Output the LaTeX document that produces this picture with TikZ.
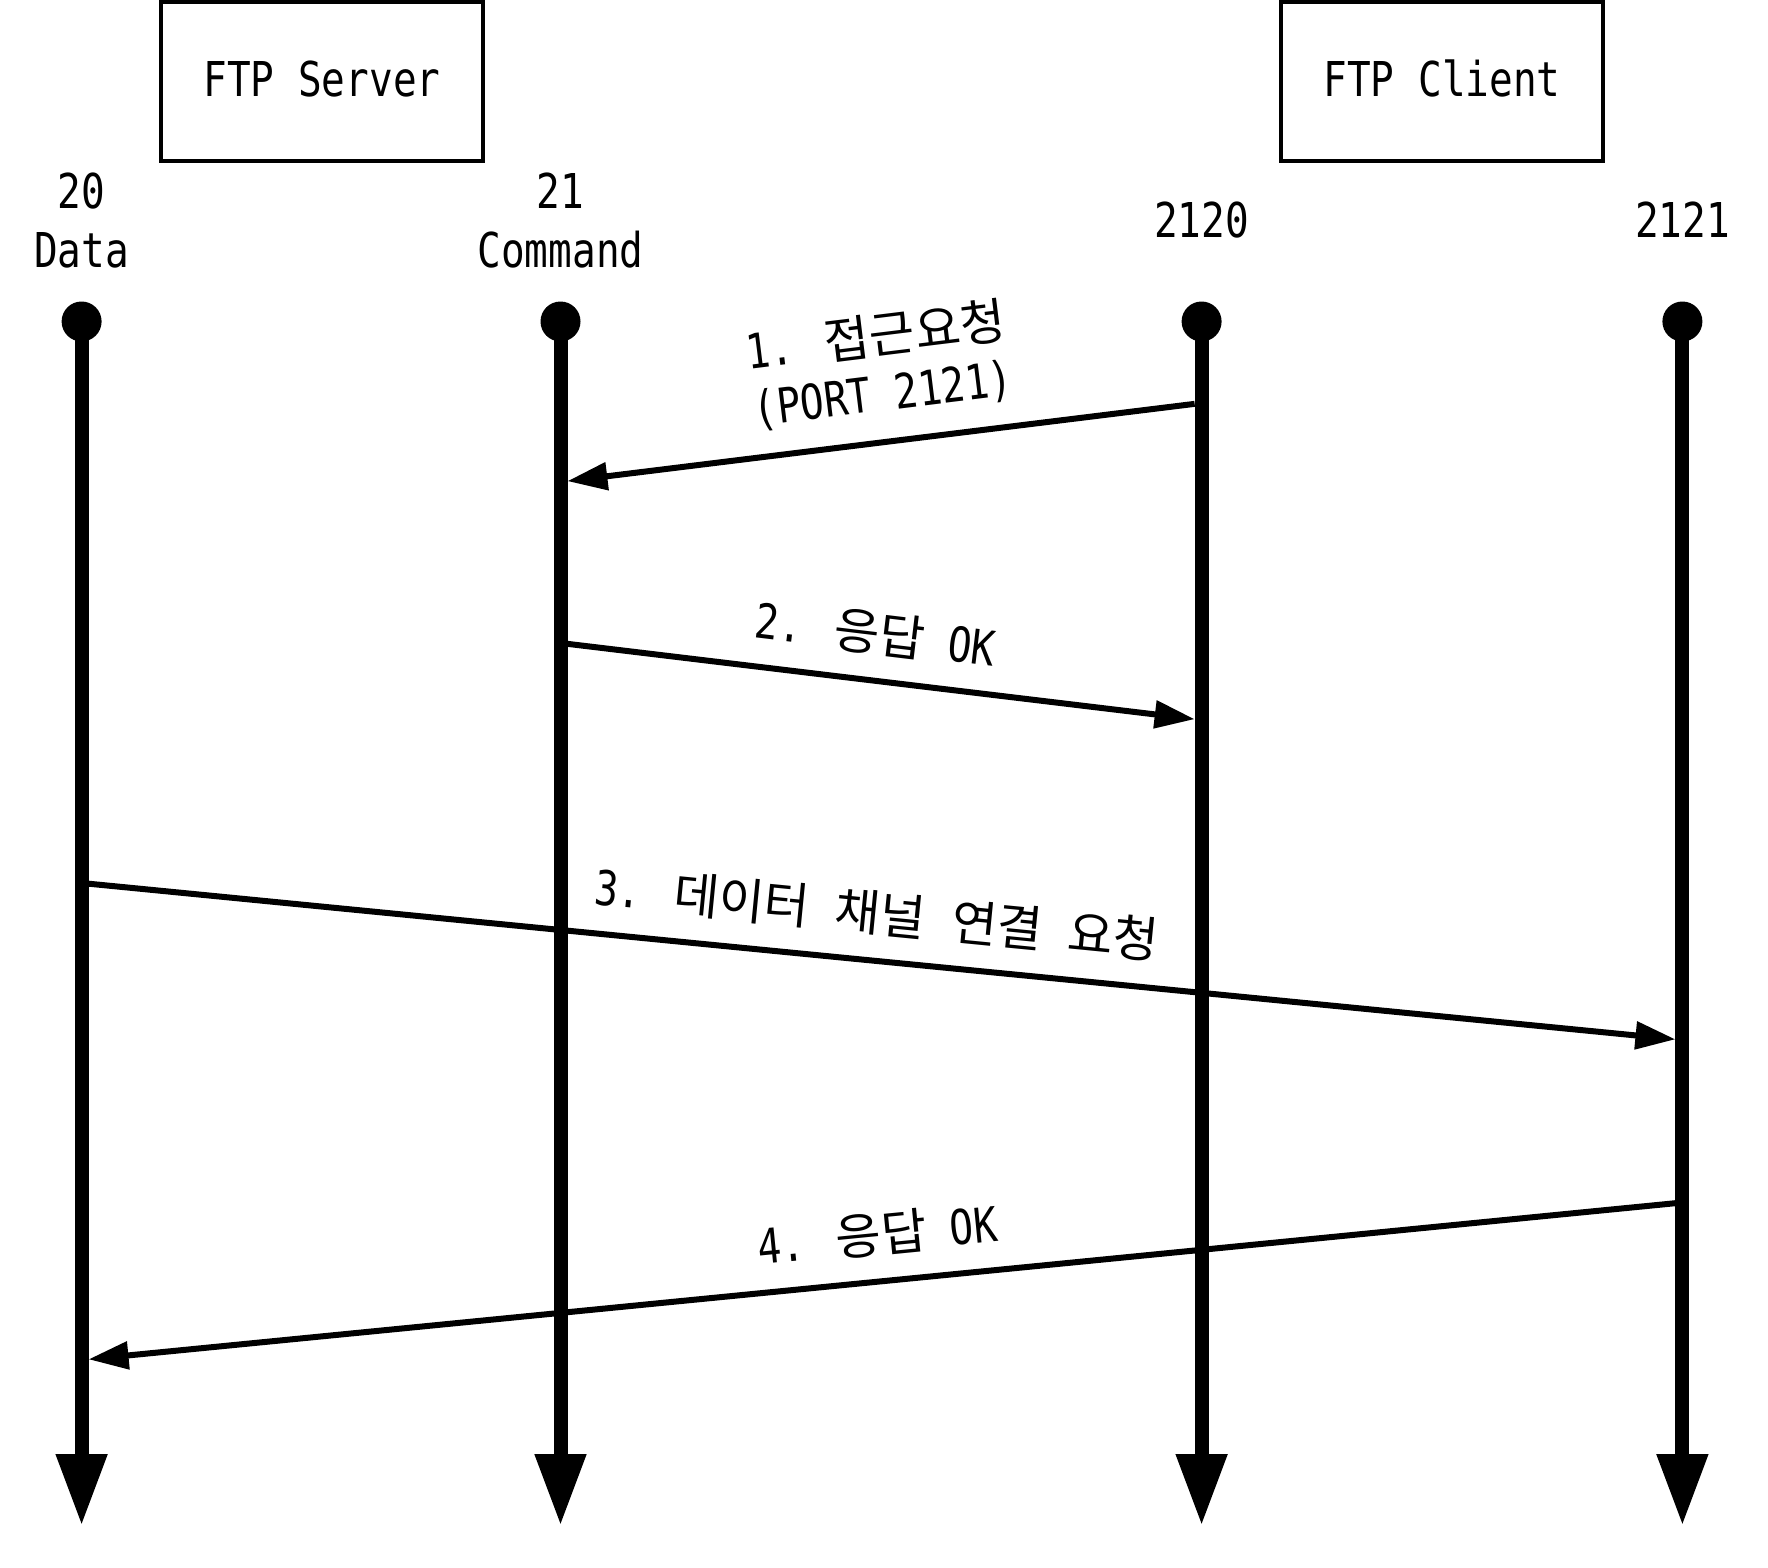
\documentclass[tikz,border=0pt]{standalone}
\usepackage{fontspec}
\setmainfont{DejaVu Sans Mono}[FakeStretch=0.82]
\newfontfamily\krfont{Noto Sans CJK KR}[Scale=1.03]
\newcommand{\ko}[1]{{\krfont\spaceskip=13pt\relax #1}}
\usetikzlibrary{arrows.meta}
\begin{document}
\begin{tikzpicture}[x=0.5pt,y=-0.5pt,
        font=\fontsize{24pt}{29.5pt}\selectfont,
        hostbox/.style={draw,line width=1.7pt,minimum width=161pt,minimum height=79.5pt,inner sep=0pt,text depth=3.2pt},
        portlabel/.style={align=center,inner sep=0pt},
        lifeline/.style={line width=7pt,-{Triangle[length=36pt,width=24pt]}},
        msg/.style={line width=3pt,-{Triangle[length=20pt,width=13.5pt]},shorten >=3.5pt,shorten <=3.5pt},
        msglabel/.style={midway,above=7pt,sloped,align=center,inner sep=4pt}]
    \useasboundingbox (0,0) rectangle (1768,1568);
    % Hosts
    \node[hostbox] (server) at (322,81.5) {FTP Server};
    \node[hostbox] (client) at (1442,81.5) {FTP Client};
    % Port labels above the lifelines
    \node[portlabel] (lbl20) at (81.6,221) {20\\Data};
    \node[portlabel] (lbl21) at (560.5,221) {21\\Command};
    \node[portlabel] (lbl2120) at (1201.6,220) {2120};
    \node[portlabel] (lbl2121) at (1682.4,220) {2121};
    % Lifelines, each starting at a dot
    \coordinate (data top) at (81.6,321.5);    \coordinate (data end) at (81.6,1526);
    \coordinate (cmd top) at (560.5,321.5);    \coordinate (cmd end) at (560.5,1526);
    \coordinate (cport top) at (1201.6,321.5); \coordinate (cport end) at (1201.6,1526);
    \coordinate (dport top) at (1682.4,321.5); \coordinate (dport end) at (1682.4,1526);
    \draw[lifeline] (data top) -- (data end);
    \draw[lifeline] (cmd top) -- (cmd end);
    \draw[lifeline] (cport top) -- (cport end);
    \draw[lifeline] (dport top) -- (dport end);
    \fill (data top) circle (20);
    \fill (cmd top) circle (20);
    \fill (cport top) circle (20);
    \fill (dport top) circle (20);
    % Message end points on the lifelines
    \coordinate (m1 from) at (1201.6,403);  \coordinate (m1 to) at (560.5,482);
    \coordinate (m2 from) at (560.5,643);   \coordinate (m2 to) at (1201.6,720);
    \coordinate (m3 from) at (81.6,883);    \coordinate (m3 to) at (1682.4,1040);
    \coordinate (m4 from) at (1682.4,1202.5); \coordinate (m4 to) at (81.6,1360);
    % Messages
    \draw[msg] (m1 from) -- node[msglabel,pos=0.488] {1. \ko{접근요청}\\[-1pt](PORT 2121)} (m1 to);
    \draw[msg] (m2 from) -- node[msglabel,pos=0.483] {2. \ko{응답} OK} (m2 to);
    \draw[msg] (m3 from) -- node[msglabel,pos=0.494] {3. \ko{데이터 채널 연결 요청}} (m3 to);
    \draw[msg] (m4 from) -- node[msglabel] {4. \ko{응답} OK} (m4 to);
\end{tikzpicture}
\end{document}
